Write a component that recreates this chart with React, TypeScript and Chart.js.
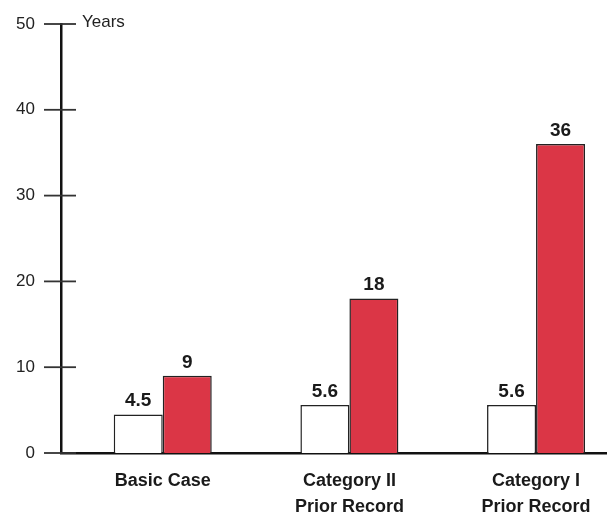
import React, { useEffect, useRef } from "react";
import { Chart, registerables } from "chart.js";

Chart.register(...registerables);

const categories: string[][] = [["Basic Case"], ["Category II", "Prior Record"], ["Category I", "Prior Record"]];
const categoryIndex = [0, 1, 2];
const whiteValues = [4.5, 5.6, 5.6];
const redValues = [9, 18, 36];
const yTicks = [0, 10, 20, 30, 40, 50];
const yUnitLabel = "Years";

const FONT = "'Liberation Sans', Arial, Helvetica, sans-serif";

const crossTicks = {
  id: "crossTicks",
  afterDraw(chart: any) {
    const ctx = chart.ctx;
    const y = chart.scales.y;
    const left = chart.chartArea.left;
    ctx.save();
    ctx.strokeStyle = "#333";
    ctx.lineWidth = 1.8;
    y.ticks.forEach((t: any) => {
      const py = y.getPixelForValue(t.value);
      ctx.beginPath();
      ctx.moveTo(left - 17, py);
      ctx.lineTo(left + 15, py);
      ctx.stroke();
    });
    // unit label
    ctx.fillStyle = "#222";
    ctx.font = `17px ${FONT}`;
    ctx.textAlign = "left";
    ctx.textBaseline = "alphabetic";
    ctx.fillText(yUnitLabel, left + 21, y.getPixelForValue(50) + 3);
    ctx.restore();
  },
};

const valueLabels = {
  id: "valueLabels",
  afterDatasetsDraw(chart: any) {
    const ctx = chart.ctx;
    ctx.save();
    ctx.fillStyle = "#1a1a1a";
    ctx.font = `bold 19px ${FONT}`;
    ctx.textAlign = "center";
    ctx.textBaseline = "bottom";
    chart.data.datasets.forEach((ds: any, di: number) => {
      const meta = chart.getDatasetMeta(di);
      meta.data.forEach((el: any, i: number) => {
        const v = ds.data[i].y;
        ctx.fillText(String(v), el.x, el.y - 4);
      });
    });
    ctx.restore();
  },
};

export default function App() {
  const ref = useRef<HTMLCanvasElement>(null);
  useEffect(() => {
    if (!ref.current) return;
    const chart = new Chart(ref.current, {
      type: "bar",
      data: {
        datasets: [
          {
            data: categoryIndex.map((x, i) => ({ x, y: whiteValues[i] })),
            backgroundColor: "#ffffff",
            borderColor: "#222",
            borderWidth: 1.5,
          },
          {
            data: categoryIndex.map((x, i) => ({ x, y: redValues[i] })),
            backgroundColor: "#db3646",
            borderColor: "#222",
            borderWidth: 1.5,
          },
        ],
      },
      options: {
        animation: false,
        responsive: false,
        maintainAspectRatio: false,
        layout: { padding: { top: 24, right: 0, left: 0, bottom: 0 } },
        plugins: { legend: { display: false }, tooltip: { enabled: false } },
        datasets: { bar: { categoryPercentage: 0.525, barPercentage: 1.0 } },
        scales: {
          x: {
            type: "linear",
            min: -0.545,
            max: 2.38,
            offset: false,
            grid: { display: false },
            border: { display: true, color: "#111", width: 2.5 },
            afterBuildTicks: (scale: any) => {
              scale.ticks = categoryIndex.map((v) => ({ value: v }));
            },
            afterFit: (scale: any) => {
              scale.height = 62;
              scale.paddingLeft = 0;
              scale.paddingRight = 0;
            },
            ticks: {
              autoSkip: false,
              maxRotation: 0,
              padding: 7,
              color: "#1a1a1a",
              font: { family: FONT, size: 18, weight: "bold", lineHeight: 1.45 },
              callback: (value: any) => categories[Number(value)] ?? "",
            },
          },
          y: {
            type: "linear",
            min: 0,
            max: 50,
            grid: { display: false },
            border: { display: true, color: "#111", width: 2.5 },
            afterBuildTicks: (scale: any) => {
              scale.ticks = yTicks.map((v) => ({ value: v }));
            },
            afterFit: (scale: any) => {
              scale.width = 61;
              scale.paddingTop = 0;
              scale.paddingBottom = 0;
            },
            ticks: {
              padding: 18,
              color: "#222",
              font: { family: FONT, size: 17 },
            },
          },
        },
      },
      plugins: [crossTicks, valueLabels],
    } as any);
    return () => chart.destroy();
  }, []);
  return (
    <div style={{ position: "fixed", left: 0, top: 0, width: 607, height: 515, background: "#fff" }}>
      <canvas ref={ref} width={607} height={515} style={{ width: 607, height: 515 }} />
    </div>
  );
}
